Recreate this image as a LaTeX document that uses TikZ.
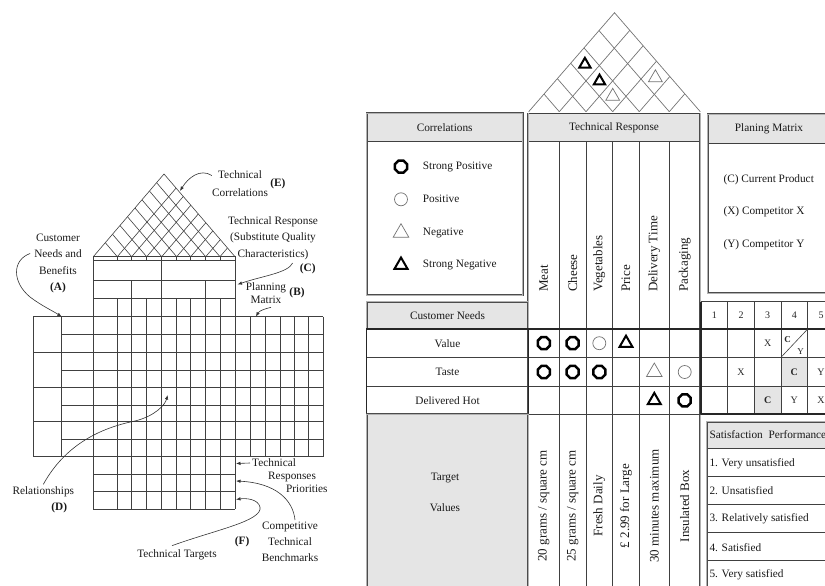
\documentclass[tikz,border=0pt]{standalone}
\usepackage{fontspec}
\setmainfont{Liberation Serif}
\usetikzlibrary{positioning,shapes.geometric,arrows.meta}

\tikzset{
  gridline/.style={draw=black!75, line width=0.6pt},
  roofline/.style={draw=black!55, line width=0.7pt},
  cellline/.style={draw=black!75, line width=0.6pt},
  heavyline/.style={draw=black!85, line width=1.4pt},
  frame/.style={draw=black!70, line width=0.5pt, double=black!30, double distance=0.8pt},
  callout/.style={draw=black!80, line width=0.6pt, -{Latex[length=4.5pt,width=3.5pt]}},
  lbl/.style={font=\fontsize{11.3}{16.5}\selectfont, align=center, inner sep=0pt, text=black!90},
  tag/.style={font=\fontsize{11.3}{13}\selectfont\bfseries, inner sep=0pt, text=black!90},
  txt/.style={font=\fontsize{11.3}{13}\selectfont, inner sep=0pt, text=black!90},
  vtxt/.style={font=\fontsize{13}{15}\selectfont, inner sep=0pt, text=black!90, rotate=90},
  ratemark/.style={font=\fontsize{10}{12}\selectfont, inner sep=0pt, text=black!85},
  strongpos/.style={regular polygon, regular polygon sides=8, draw=black, line width=2.5pt, minimum size=13pt, inner sep=0pt},
  weakpos/.style={circle, draw=black!55, line width=0.7pt, minimum size=13pt, inner sep=0pt},
  weakneg/.style={regular polygon, regular polygon sides=3, draw=black!55, line width=0.7pt, minimum size=18pt, inner sep=0pt},
  strongneg/.style={regular polygon, regular polygon sides=3, draw=black, line width=2pt, minimum size=15pt, inner sep=0pt},
}

\begin{document}
\begin{tikzpicture}[x=1pt,y=-1pt]
\useasboundingbox (0,0) rectangle (825,586);
\clip (0,0) rectangle (825,586);

% ---------- generic house of quality (left)
\pgfmathsetmacro\lroofy{256.7}
\draw[gridline] (93.3,\lroofy) -- (164,174) -- (235,\lroofy);
\foreach \x in {117.3,131.7,146.7,161.7,176.7,190.7,205.7,220}{
  \draw[gridline] (\x,\lroofy) -- ({(\x+235)/2},{\lroofy-82.7*(235-\x)/141.7});
  \draw[gridline] (\x,\lroofy) -- ({(\x+93.3)/2},{\lroofy-82.7*(\x-93.3)/141.7});
  \draw[gridline] (\x,\lroofy) -- (\x,260.7);
}
\draw[gridline] (93.3,\lroofy) rectangle (235,316.7);
\foreach \y in {260.7,280.7,298.3}
  \draw[gridline] (93.3,\y) -- (235,\y);
\draw[gridline] (161.7,260.7) -- (161.7,298.3);
\foreach \x in {131.7,205.7}
  \draw[gridline] (\x,280.7) -- (\x,298.3);
% relationships and planning grid
\foreach \x in {93.3,117.3,131.7,146.7,161.7,176.7,190.7,205.7,220,235}
  \draw[gridline] (\x,298.3) -- (\x,509.3);
\foreach \x in {33.3,61.7,250,265,280,294,308.3,323.3}
  \draw[gridline] (\x,316.7) -- (\x,456.7);
\foreach \y in {316.7,352.3,387.3,421.7,456.7}
  \draw[gridline] (33.3,\y) -- (323.3,\y);
\foreach \y in {334.3,370,405,439.3}
  \draw[gridline] (61.7,\y) -- (323.3,\y);
\foreach \y in {474,491.7,509.3}
  \draw[gridline] (93.3,\y) -- (235,\y);

% labels
\node[lbl, font=\fontsize{11.3}{17.3}\selectfont] (lblE) at (240,183.5) {Technical\\Correlations};
\node[tag, right=2pt of lblE] (tagE) {(E)};
\node[lbl] (lblA) at (58,263.5) {Customer\\Needs and\\Benefits\\\textbf{(A)}};
\node[lbl, font=\fontsize{11.3}{16.3}\selectfont] (lblC) at (273,238) {Technical Response\\(Substitute Quality\\Characteristics)};
\node[tag] (tagC) at (307.7,268.3) {(C)};
\node[lbl, font=\fontsize{11.3}{12.3}\selectfont] (lblB) at (266,293) {Planning\\Matrix};
\node[tag, right=3pt of lblB] (tagB) {(B)};
\node[lbl, align=left, anchor=west, font=\fontsize{11.3}{13}\selectfont] (lblP) at (252,476)
  {Technical\\\hspace*{16pt}Responses\\\hspace*{34pt}Priorities};
\node[lbl, font=\fontsize{11.3}{15.7}\selectfont] (lblF) at (290,541.7) {Competitive\\Technical\\Benchmarks};
\node[tag, left=12pt of lblF] (tagF) {(F)};
\node[lbl] (lblT) at (177,555) {Technical Targets};
\node[lbl] (lblD) at (43.3,491.7) {Relationships};
\node[tag, below=5pt of lblD, xshift=16pt] (tagD) {(D)};

\coordinate (tipE) at (180,191);
\coordinate (tipA) at (61.7,316.7);
\coordinate (tipC) at (237.5,284.5);
\coordinate (tipB) at (256,316.7);
\coordinate (tipP) at (236,463.5);
\coordinate (tipF) at (236,481);
\coordinate (tipT) at (236,499.5);
\coordinate (tipD) at (167.7,395);

\draw[callout] ([yshift=8pt]lblE.west) .. controls (200,168) and (188,178) .. (tipE);
\draw[callout] ([xshift=-4pt,yshift=10pt]lblA.west) .. controls (12,260) and (12,282) .. (30,297)
  .. controls (42,306) and (53,311) .. (tipA);
\draw[callout] ([xshift=-7pt]tagC.north west) .. controls (288,273) and (262,276) .. (tipC);
\draw[callout] ([xshift=5pt,yshift=-4pt]lblB.south) .. controls (264,309) and (259,311) .. (tipB);
\draw[callout] ([xshift=-2pt,yshift=13pt]lblP.west) -- (tipP);
\draw[callout] ([xshift=5pt,yshift=2pt]lblF.north) .. controls (293,500) and (276,483) .. (tipF);
\draw[callout] ([xshift=-5pt,yshift=4pt]lblT.north) .. controls (215,530) and (263,521) .. (260,507)
  .. controls (258,499) and (246,498) .. (tipT);
\draw[callout] ([yshift=2pt]lblD.north) .. controls (65,445) and (100,428) .. (135,421)
  .. controls (155,416) and (165,405) .. (tipD);

% ---------- pizza house of quality (right)
% roof
\pgfmathsetmacro\rroofy{111.7}
\draw[roofline] (528.7,\rroofy) -- (614.5,12.7) -- (700.3,\rroofy);
\foreach \x in {559.3,586,612.7,639.3,669.3}{
  \draw[roofline] (\x,\rroofy) -- ({(\x+700.3)/2},{\rroofy-99*(700.3-\x)/171.6});
  \draw[roofline] (\x,\rroofy) -- ({(\x+528.7)/2},{\rroofy-99*(\x-528.7)/171.6});
}
\node[strongneg, minimum size=13pt] (roofMP) at (584.9,64.3) {};
\node[strongneg, minimum size=13pt] (roofCP) at (599.5,81.1) {};
\node[weakneg, minimum size=16pt] (roofVP) at (612.7,96.3) {};
\node[weakneg, minimum size=16pt] (roofPK) at (655.4,77.8) {};

% correlations legend
\fill[black!10] (366.7,113.3) rectangle (522.7,141.7);
\draw[cellline] (366.7,141.7) -- (522.7,141.7);
\draw[frame] (366.7,113.3) rectangle (522.7,295);
\node[txt] (corrhead) at (444.7,127.5) {Correlations};
\node[strongpos] (keySP) at (401,166.7) {};
\node[weakpos] (keyP) at (401,199.3) {};
\node[weakneg] (keyN) at (401,232.7) {};
\node[strongneg] (keySN) at (401,265) {};
\node[txt, anchor=west] (keySPtxt) at (422.7,166.7) {Strong Positive};
\node[txt, anchor=west] (keyPtxt) at (422.7,199.3) {Positive};
\node[txt, anchor=west] (keyNtxt) at (422.7,232.7) {Negative};
\node[txt, anchor=west] (keySNtxt) at (422.7,265) {Strong Negative};

% technical response
\fill[black!10] (528.3,113.3) rectangle (700,141.7);
\draw[cellline] (528.3,113.3) -- (700,113.3);
\draw[cellline] (528.3,141.7) -- (700,141.7);
\node[txt] (techhead) at (614,127.5) {Technical Response};
\foreach \x in {559.3,586,612.7,639.3,669.3}
  \draw[cellline] (\x,141.7) -- (\x,600);
\draw[frame] (528.3,113.3) -- (528.3,600);
\draw[frame] (700,113.3) -- (700,600);
\foreach \x/\t [count=\i] in {543.8/Meat,572.7/Cheese,599.3/Vegetables,626/Price,654.3/Delivery Time,684.7/Packaging}
  \node[vtxt, anchor=west] (tech-\i) at (\x,292) {\t};

% planning matrix legend
\fill[black!10] (707.7,114.3) rectangle (845,143.3);
\draw[cellline] (707.7,143.3) -- (845,143.3);
\draw[frame] (707.7,114.3) rectangle (845,293.3);
\node[txt] (planhead) at (769,128.8) {Planing Matrix};
\node[txt, anchor=west] (planC) at (723.3,180) {(C) Current Product};
\node[txt, anchor=west] (planX) at (723.3,211.7) {(X) Competitor X};
\node[txt, anchor=west] (planY) at (723.3,245) {(Y) Competitor Y};

% customer needs
\fill[black!10] (366.7,301.7) rectangle (528.3,329);
\draw[frame] (366.7,301.7) rectangle (528.3,329);
\node[txt] (needhead) at (447.5,315.3) {Customer Needs};
\foreach \y/\t [count=\i] in {343.2/Value,372/Taste,400.4/Delivered Hot}
  \node[txt] (need-\i) at (447.5,\y) {\t};

% planning ratings
\fill[black!10] (781,357.3) rectangle (807.7,386.7);
\fill[black!10] (754.3,386.7) rectangle (781,414);
\draw[cellline] (701,301.7) -- (840,301.7);
\foreach \x in {727.7,754.3,781,807.7,834.3}
  \draw[cellline] (\x,301.7) -- (\x,414);
\foreach \x [count=\i] in {714.3,741,767.7,794.3,821}
  \node[ratemark] (rate-\i) at (\x,315) {\i};
\foreach \y in {357.3,386.7}
  \draw[cellline] (366.7,\y) -- (840,\y);
\draw[cellline] (528.3,414) -- (701,414);
\draw[heavyline] (366.7,329) rectangle (528.3,414);
\draw[heavyline] (366.7,329) -- (840,329);
\draw[heavyline] (701,301.7) -- (701,414);
\draw[cellline] (781,357.3) -- (807.7,329);
\node[ratemark, font=\fontsize{9}{10}\selectfont\bfseries] (valC) at (787.5,339.5) {C};
\node[ratemark, font=\fontsize{9}{10}\selectfont] (valY) at (800.5,351.5) {Y};
\node[ratemark] (valX) at (767.7,343.2) {X};
\node[ratemark] (tasX) at (741,372) {X};
\node[ratemark, font=\fontsize{10}{12}\selectfont\bfseries] (tasC) at (794.3,372) {C};
\node[ratemark] (tasY) at (821,372) {Y};
\node[ratemark, font=\fontsize{10}{12}\selectfont\bfseries] (hotC) at (767.7,400.4) {C};
\node[ratemark] (hotY) at (794.3,400.4) {Y};
\node[ratemark] (hotX) at (821,400.4) {X};

% relationships
\foreach \r/\c/\s in {1/1/strongpos,1/2/strongpos,1/3/weakpos,1/4/strongneg,
    2/1/strongpos,2/2/strongpos,2/3/strongpos,2/5/weakneg,2/6/weakpos,
    3/5/strongneg,3/6/strongpos}{
  \pgfmathsetmacro\cx{{543.8,572.7,599.3,626,654.3,684.7}[\c-1]}
  \pgfmathsetmacro\cy{{343.2,372,400.4}[\r-1]}
  \node[\s] (rel-\r-\c) at (\cx,\cy) {};
}

% target values
\fill[black!10] (366.7,414) rectangle (528.3,600);
\draw[frame] (366.7,414) rectangle (528.3,600);
\node[txt, align=center, font=\fontsize{11.3}{31.6}\selectfont] (tgthead) at (445,492.5) {Target\\Values};
\foreach \x/\t [count=\i] in {543.8/{20 grams / square cm},572.7/{25 grams / square cm},599.3/{Fresh Daily},
    626/{£ 2.99 for Large},654.3/{30 minutes maximum},684.7/{Insulated Box}}
  \node[vtxt] (tgt-\i) at (\x,506) {\t};

% satisfaction scale
\draw[heavyline] (701,414) -- (850,414);
\fill[black!10] (706.7,421.7) rectangle (845,448.3);
\foreach \y in {448.3,476.7,504.3,532.7,560}
  \draw[cellline] (706.7,\y) -- (845,\y);
\draw[frame] (706.7,421.7) rectangle (845,600);
\node[txt, anchor=west] (sathead) at (709.3,435) {Satisfaction\ \ Performance};
\foreach \y/\t [count=\i] in {463.3/1. Very unsatisfied,491/2. Unsatisfied,519/3. Relatively satisfied,
    547.7/4. Satisfied,575/5. Very satisfied}
  \node[txt, anchor=west] (sat-\i) at (709.3,\y) {\t};
\end{tikzpicture}
\end{document}
